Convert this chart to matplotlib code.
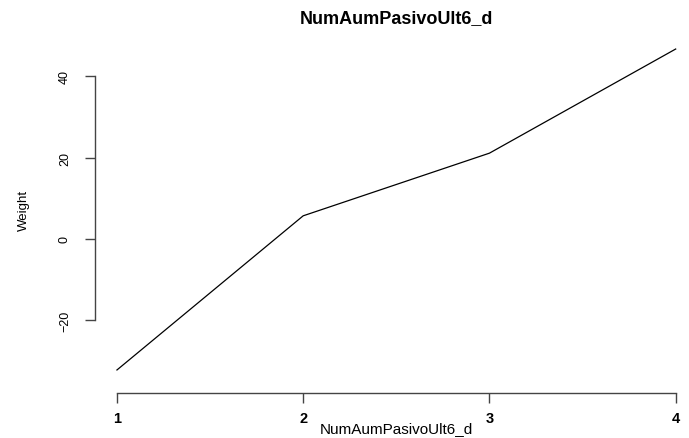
import matplotlib
matplotlib.use("Agg")
import matplotlib.pyplot as plt

plt.rcParams['font.family'] = ['Liberation Sans', 'DejaVu Sans']

# values
levels = [1, 2, 3, 4]
weight = [-32.2, 5.7, 21.1, 46.7]
yticks = [-20, 0, 20, 40]
title = "NumAumPasivoUlt6_d"

fig = plt.figure(figsize=(6.89, 4.39), dpi=100)
ax = fig.add_axes([0.1373, 0.1257, 0.8758, 0.7896])

ax.plot(levels, weight, color='black', lw=0.9)

# R style: 4% padding, axes only over the tick range
pad_x = (max(levels) - min(levels)) * 0.04
pad_y = (max(weight) - min(weight)) * 0.04
ax.set_xlim(min(levels) - pad_x, max(levels) + pad_x)
ax.set_ylim(min(weight) - pad_y, max(weight) + pad_y)

ax.set_xticks(levels)
ax.set_yticks(yticks)
ax.spines['top'].set_visible(False)
ax.spines['right'].set_visible(False)
ax.spines['bottom'].set_bounds(min(levels), max(levels))
ax.spines['left'].set_bounds(min(yticks), max(yticks))
ax.spines['bottom'].set_position(('outward', 7))
for s in ('bottom', 'left'):
    ax.spines[s].set_color('#444444')
    ax.spines[s].set_linewidth(1.0)
ax.tick_params(axis='both', length=7, width=1.0, color='#444444')
ax.tick_params(axis='x', labelsize=10.5, pad=6)
ax.tick_params(axis='y', labelsize=9, pad=10)
for lab in ax.get_yticklabels():
    lab.set_rotation(90)
    lab.set_va('center')
for lab in ax.get_xticklabels():
    lab.set_fontweight('bold')

ax.set_xlabel(title, fontsize=11, labelpad=-2.5)
ax.set_ylabel('Weight', fontsize=9.5, labelpad=21)
ax.set_title(title, fontsize=13, fontweight='bold', pad=10)

fig.savefig('out.png', dpi=100)
